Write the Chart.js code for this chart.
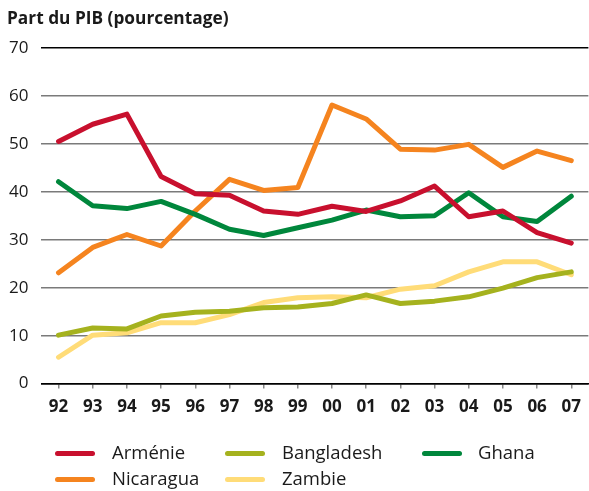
<!DOCTYPE html>
<html>
<head>
<meta charset="utf-8">
<script src="https://cdn.jsdelivr.net/npm/chart.js@4/dist/chart.umd.min.js"></script>
<style>
  html, body { margin: 0; padding: 0; background: #fff; }
  #wrap { position: relative; width: 589px; height: 491px; font-family: "Open Sans", "Noto Sans", sans-serif; }
  #title { position: absolute; left: 7px; top: 6px; font-size: 17.3px; font-weight: bold; color: #1a1a1a; white-space: nowrap; }
  #chartBox { position: absolute; left: 0; top: 0; width: 589px; height: 491px; }
  .leg { position: absolute; font-size: 18.5px; color: #1a1a1a; white-space: nowrap; line-height: 1; }
  .leg .sw { position: absolute; width: 40px; height: 5px; border-radius: 3px; }
</style>
</head>
<body>
<div id="wrap">
  <div id="chartBox"><canvas id="c" width="589" height="491"></canvas></div>
  <div id="title">Part du PIB (pourcentage)</div>
  <div id="legend"></div>
</div>
<script>
const years = ["92","93","94","95","96","97","98","99","00","01","02","03","04","05","06","07"];
const armenie   = [50.5, 54.1, 56.2, 43.2, 39.6, 39.3, 36.0, 35.3, 37.0, 35.9, 38.1, 41.2, 34.8, 36.0, 31.5, 29.3];
const nicaragua = [23.1, 28.4, 31.1, 28.7, 36.0, 42.6, 40.3, 40.9, 58.1, 55.2, 48.9, 48.7, 49.9, 45.1, 48.5, 46.5];
const ghana     = [42.1, 37.1, 36.5, 38.0, 35.3, 32.2, 30.9, 32.5, 34.1, 36.2, 34.8, 35.0, 39.8, 34.8, 33.8, 39.1];
const bangladesh= [10.1, 11.6, 11.4, 14.1, 14.9, 15.1, 15.8, 16.0, 16.7, 18.5, 16.7, 17.2, 18.1, 19.9, 22.1, 23.3];
const zambie    = [5.5, 10.1, 10.6, 12.7, 12.7, 14.4, 16.9, 17.9, 18.1, 17.9, 19.7, 20.4, 23.3, 25.4, 25.4, 22.7];
const yTicks = [0, 10, 20, 30, 40, 50, 60, 70];

const seriesNames  = ["Arménie", "Bangladesh", "Ghana", "Nicaragua", "Zambie"];
const seriesValues = [armenie, bangladesh, ghana, nicaragua, zambie];
const seriesColors = ["#c8102e", "#a5b21e", "#00873c", "#f5841f", "#ffdc78"];
// drawing order (first = on top)
const drawOrder = [0, 2, 3, 1, 4];

const datasets = drawOrder.map(i => ({
  label: seriesNames[i],
  data: seriesValues[i],
  borderColor: seriesColors[i],
  backgroundColor: seriesColors[i],
  borderWidth: 5,
  borderCapStyle: 'round',
  borderJoinStyle: 'round',
  pointRadius: 0,
  tension: 0,
  fill: false
}));

new Chart(document.getElementById('c'), {
  type: 'line',
  data: { labels: years, datasets },
  options: {
    responsive: false,
    animation: false,
    layout: { padding: { top: 48, left: -4, right: 0, bottom: 66 } },
    plugins: { legend: { display: false }, tooltip: { enabled: false }, title: { display: false } },
    scales: {
      x: {
        offset: true,
        grid: { offset: false, drawOnChartArea: false, drawTicks: true, tickLength: 5, color: '#888', lineWidth: 1.5 },
        border: { display: true, color: '#000', width: 1.5 },
        ticks: { color: '#1a1a1a', padding: 8, maxRotation: 0, autoSkip: false,
                 font: { family: '"Open Sans", "Noto Sans", sans-serif', size: 17, weight: 'bold' } }
      },
      y: {
        min: 0, max: 70,
        afterBuildTicks: (axis) => { axis.ticks = yTicks.map(v => ({ value: v })); },
        grid: {
          drawTicks: false,
          color: (ctx) => (ctx.tick && (ctx.tick.value === 70 || ctx.tick.value === 0)) ? '#000' : '#7a7a7a',
          lineWidth: 1.5
        },
        border: { display: false },
        ticks: { color: '#1a1a1a', padding: 13,
                 font: { family: '"Open Sans", "Noto Sans", sans-serif', size: 17 } }
      }
    }
  }
});

// HTML legend built from series arrays
const legendPos = [
  { sx: 55, tx: 112, y: 453 },  // Arménie
  { sx: 225, tx: 282, y: 453 }, // Bangladesh
  { sx: 422, tx: 478, y: 453 }, // Ghana
  { sx: 55, tx: 112, y: 479 },  // Nicaragua
  { sx: 225, tx: 282, y: 479 }  // Zambie
];
const legend = document.getElementById('legend');
seriesNames.forEach((name, i) => {
  const p = legendPos[i];
  const sw = document.createElement('div');
  sw.className = 'leg';
  sw.style.left = p.sx + 'px';
  sw.style.top = (p.y - 2.5) + 'px';
  sw.innerHTML = '<div class="sw" style="background:' + seriesColors[i] + '"></div>';
  legend.appendChild(sw);
  const t = document.createElement('div');
  t.className = 'leg';
  t.style.left = p.tx + 'px';
  t.style.top = (p.y - 10) + 'px';
  t.textContent = name;
  legend.appendChild(t);
});
</script>
</body>
</html>
